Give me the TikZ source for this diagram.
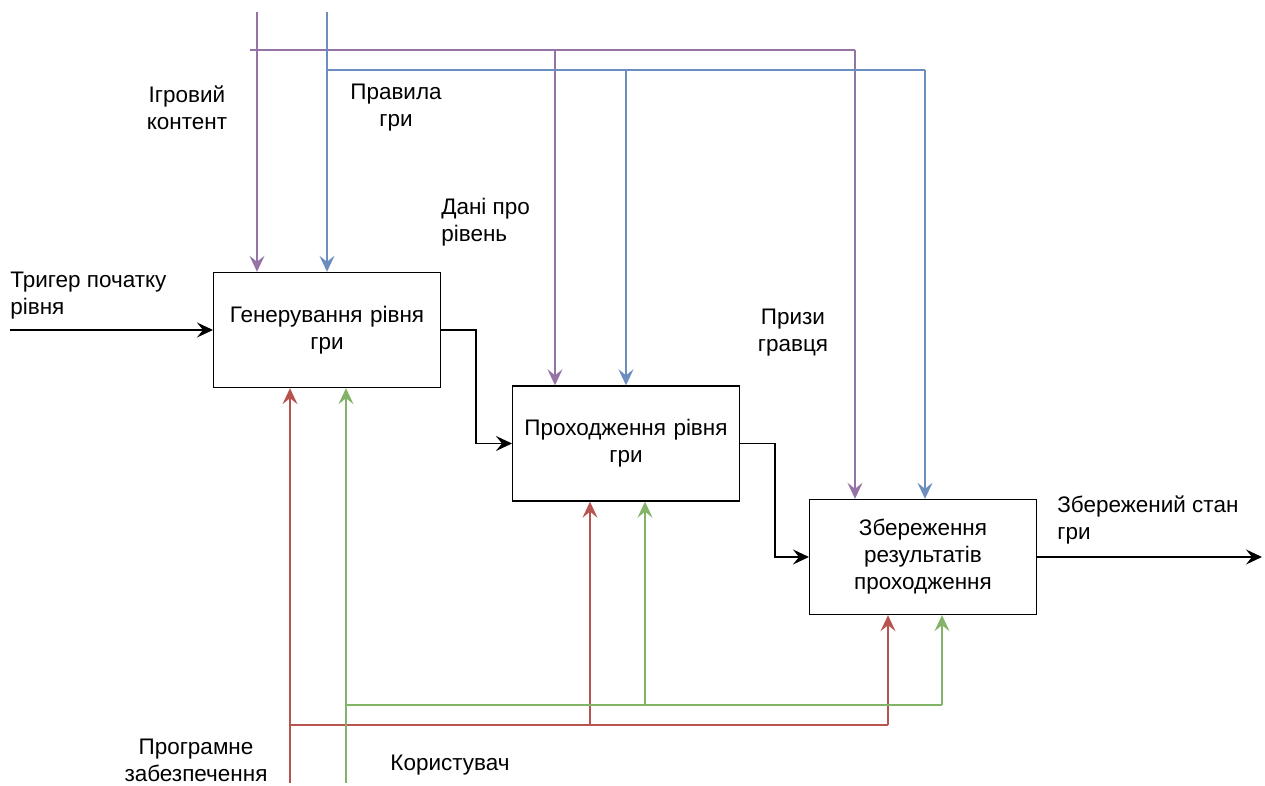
\documentclass[tikz,border=0pt]{standalone}
\usepackage{fontspec}
\setmainfont{Liberation Sans}
\usetikzlibrary{arrows.meta}
\definecolor{ctlpurple}{HTML}{9673A6}
\definecolor{ctlblue}{HTML}{6C8EBF}
\definecolor{mechred}{HTML}{B85450}
\definecolor{mechgreen}{HTML}{82B366}
\begin{document}
\begin{tikzpicture}[x=0.02cm, y=-0.02cm,
   >={Stealth[length=3.2mm, width=3mm, inset=1.2mm]},
   every node/.style={font=\fontsize{12.8}{15.4}\selectfont},
   func/.style={draw, line width=0.8pt, minimum width=4.5cm, minimum height=2.3cm, align=center, text width=4.3cm},
   lbl/.style={align=center, inner sep=0pt},
   flow/.style={->, line width=0.8pt},
   purp/.style={line width=0.8pt, ctlpurple},
   blu/.style={line width=0.8pt, ctlblue},
   rd/.style={line width=0.8pt, mechred},
   grn/.style={line width=0.8pt, mechgreen}]

\useasboundingbox (0,0) rectangle (1265,786);

\node[func] (gen)  at (327,330) {Генерування рівня\\гри};
\node[func] (pass) at (626,443.5) {Проходження рівня\\гри};
\node[func] (save) at (923,557) {Збереження\\результатів\\проходження};

% controls
\coordinate (contentTop) at (257,12);
\coordinate (contentL) at (250,50);
\coordinate (contentB) at (555,50);
\coordinate (contentC) at (855,50);
\coordinate (rulesTop) at (327,12);
\coordinate (rulesB) at (626,70);
\coordinate (rulesC) at (925,70);
\draw[purp] (contentL) -- (contentC);
\draw[purp,->] (contentTop) -- (contentTop |- gen.north);
\draw[purp,->] (contentB) -- (contentB |- pass.north);
\draw[purp,->] (contentC) -- (contentC |- save.north);
\draw[blu,->] (rulesTop) -- (gen.north);
\draw[blu] (rulesTop |- rulesB) -- (rulesC);
\draw[blu,->] (rulesB) -- (pass.north);
\draw[blu,->] (rulesC) -- (rulesC |- save.north);

% mechanisms
\coordinate (softBot) at (290,783);
\coordinate (softB) at (590,725);
\coordinate (softC) at (888,725);
\coordinate (userBot) at (346,783);
\coordinate (userB) at (645,705);
\coordinate (userC) at (942,705);
\draw[rd,->] (softBot) -- (softBot |- gen.south);
\draw[rd] (softBot |- softC) -- (softC);
\draw[rd,->] (softB) -- (softB |- pass.south);
\draw[rd,->] (softC) -- (softC |- save.south);
\draw[grn,->] (userBot) -- (userBot |- gen.south);
\draw[grn] (userBot |- userC) -- (userC);
\draw[grn,->] (userB) -- (userB |- pass.south);
\draw[grn,->] (userC) -- (userC |- save.south);

% flow
\coordinate (trigIn) at (10,330);
\coordinate (stateOut) at (1262,557);
\draw[flow] (trigIn) -- (gen.west);
\draw[flow] (gen.east) -- (476,330) |- (pass.west);
\draw[flow] (pass.east) -- (775,443.5) |- (save.west);
\draw[flow] (save.east) -- (stateOut);

\node[lbl] (contentLbl) at (187,108) {Ігровий\\контент};
\node[lbl] (rulesLbl) at (396,108) {Правила\\гри};
\node[lbl, align=left, anchor=west] (levelLbl) at (441,222) {Дані про\\рівень};
\node[lbl] (prizeLbl) at (793,333) {Призи\\гравця};
\node[lbl, align=left, anchor=west] (trigLbl) at (10,296) {Тригер початку\\рівня};
\node[lbl, align=left, anchor=west] (stateLbl) at (1057,520) {Збережений стан\\гри};
\node[lbl] (softLbl) at (196,760) {Програмне\\забезпечення};
\node[lbl] (userLbl) at (450,765) {Користувач};

\end{tikzpicture}
\end{document}
